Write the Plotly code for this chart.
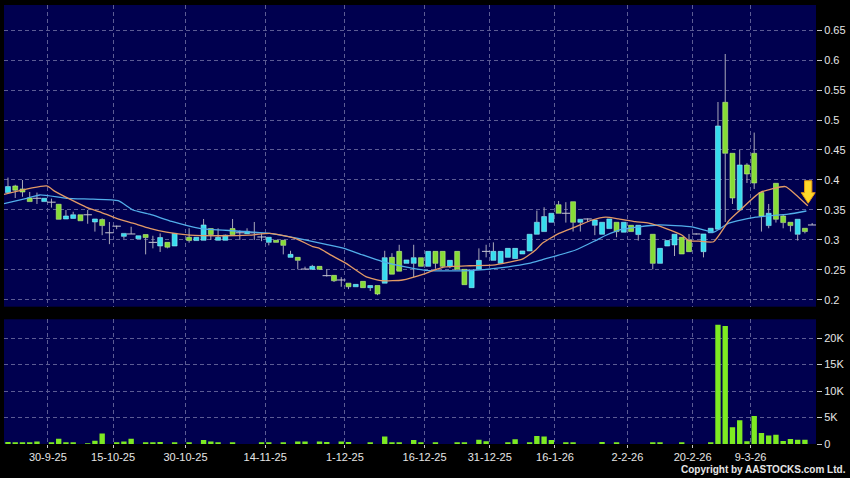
import plotly.graph_objects as go

# ---------------- data ----------------
slots = list(range(112))
opens = [.379, .390, .385, .370, .3695, .364, .363, .3595, .335, .336,
         .342, .342, .330, .334, .312, .323, .306, .310, .302, .309,
         .296, .290, .296, .290, None, .3045, .299, .2995, .319, .2995,
         .2995, .319, .312, .3105, .312, .305, .296, .2995, .2995, .271,
         .271, .2515, .251, .256, .2405, .241, .2333, .228, .222, .231,
         .2205, .224, .228, .271, .281, .261, .261, .2705, .256, .281,
         .281, .256, .281, .251, .2205, .251, .281, .266, .261, .271,
         .269, .2767, .2817, .3095, .314, .3295, .3588, .3445, .3638, .3295,
         .335, .3245, .3095, .319, .3295, .313, .3245, .309, None, .3095,
         .261, .290, .2917, .3045, .300, .310, .2805, .312, .318, .5295,
         .4445, .350, .425, .4445, .379, .324, .3945, .340, .3295, .3095,
         .3195, .325]
highs = [.404, .392, .400, .380, .379, .370, .369, .360, .350, .347,
         .342, .350, .335, .336, .330, .324, .311, .322, .307, .309,
         .307, .311, .296, .311, None, .3195, .3045, .335, .319, .3195,
         .309, .335, .316, .3195, .330, .311, .3045, .2995, .2995, .282,
         .271, .2555, .2585, .256, .251, .241, .238, .228, .226, .231,
         .225, .224, .282, .278, .292, .2667, .292, .2705, .281, .281,
         .281, .266, .281, .251, .250, .286, .292, .296, .281, .286,
         .286, .2817, .3095, .349, .3545, .3445, .365, .363, .3638, .3345,
         .336, .3333, .3295, .335, .3295, .3295, .3245, .3245, None, .3095,
         .286, .299, .3095, .3045, .310, .311, .310, .3195, .530, .610,
         .4445, .450, .428, .479, .380, .360, .395, .343, .3295, .3345,
         .3195, .3283]
lows = [.377, .370, .372, .364, .360, .364, .354, .3345, .335, .336,
        .332, .327, .314, .308, .293, .318, .302, .310, .302, .276,
        .286, .280, .286, .290, None, .2955, .299, .2995, .300, .2995,
        .2995, .309, .300, .3105, .300, .298, .291, .296, .276, .271,
        .251, .2515, .251, .251, .239, .230, .222, .218, .222, .2205,
        .215, .208, .228, .243, .248, .261, .238, .256, .256, .252,
        .253, .253, .251, .2255, .2205, .251, .271, .266, .261, .271,
        .269, .2767, .2817, .3095, .314, .3295, .3445, .329, .314, .314,
        .330, .308, .3095, .319, .3045, .313, .314, .299, None, .251,
        .261, .290, .2733, .2767, .2805, .309, .271, .312, .318, .330,
        .360, .350, .395, .385, .314, .3195, .329, .3195, .314, .299,
        .311, .325]
closes = [.389, .383, .380, .364, .3695, .3695, .363, .3345, .340, .342,
          .332, .342, .335, .324, .312, .323, .311, .310, .307, .304,
          .296, .304, .288, .311, None, .299, .3045, .325, .309, .3045,
          .308, .309, .312, .3145, .312, .305, .3045, .296, .291, .276,
          .266, .2515, .256, .251, .2405, .232, .2333, .222, .226, .2205,
          .224, .210, .2705, .243, .248, .2667, .2705, .256, .281, .261,
          .256, .266, .251, .2255, .250, .266, .281, .281, .281, .286,
          .286, .2817, .3095, .3295, .339, .3445, .3445, .3445, .3295, .3345,
          .335, .3333, .3295, .335, .314, .3295, .314, .3245, None, .261,
          .286, .299, .3095, .2767, .2805, .310, .310, .3195, .490, .4445,
          .370, .425, .410, .395, .340, .3445, .3345, .329, .324, .3345,
          .314, .325]
volumes_k = [.38, .25, .25, .25, .45, 0, .3, 1.0, .3, .3,
             0, .13, .63, 2.0, 0, .25, .45, 1.0, 0, .25,
             .25, .38, 0, .25, None, .25, 0, .76, .45, .25,
             0, .25, 0, 0, 0, .25, .25, 0, .3, 0,
             .45, .45, 0, .45, .38, 0, .45, .38, 0, 0,
             .2, 0, 1.4, .25, .25, 0, .76, .25, 0, .3,
             0, 0, .25, .25, 0, .82, .5, 0, 0, .3,
             .9, 0, .2, 1.5, 1.4, .76, 0, .3, .25, 0,
             0, 0, .38, 0, .2, 0, 0, 0, None, .25,
             .25, 0, 0, .2, 0, 0, 0, .2, 22.5, 22.3,
             3.15, 4.5, .5, 5.3, 2.1, 1.6, 1.75, .55, .95, .8,
             .8, 0]

ma_short_x = [-0.55, 5.33, 6.48, 8.54, 10.84, 12.68, 14.98, 17.26, 19.56, 21.87,
              25.08, 29.2, 33.3, 36.1, 38.2, 39.8, 42.07, 43.0, 44.4, 46.67,
              49.4, 51.7, 54.46, 57.7, 59.98, 63.7, 66.9, 69.2, 71.0, 72.84,
              73.75, 76.05, 78.35, 80.64, 82.5, 84.3, 86.6, 88.45, 90.75, 93.0,
              93.96, 95.3, 97.4, 99.5, 100.9, 103.8, 107.3, 108.7, 110.4]
ma_short_y = [.376, .390, .381, .368, .3545, .347, .336, .328, .3195, .313,
              .308, .307, .308, .311, .307, .302, .289, .286, .276, .261,
              .239, .232, .2333, .2445, .2545, .257, .258, .263, .268, .2833,
              .2945, .311, .322, .3333, .338, .335, .3305, .328, .3195, .3083,
              .299, .298, .297, .332, .348, .379, .389, .376, .357]
ma_long_x = [-0.55, 2.58, 4.4, 8.09, 11.75, 15.2, 17.26, 19.56, 22.6, 26.45,
             31.5, 36.1, 40.7, 43.9, 46.4, 48.95, 51.7, 55.4, 58.1, 63.7,
             68.2, 71.9, 73.7, 78.35, 81.1, 82.4, 84.8, 87.1, 89.8, 92.1,
             94.4, 96.3, 97.4, 99.5, 103.2, 107.7, 110.2]
ma_long_y = [.3605, .3695, .375, .3695, .368, .3655, .350, .343, .331, .3195,
             .315, .311, .301, .2928, .286, .275, .264, .254, .249, .249,
             .254, .261, .267, .2833, .299, .307, .318, .322, .325, .324,
             .322, .316, .313, .328, .338, .343, .3483]

date_tick_slots = [5.5, 14.5, 24.5, 35.5, 46.5, 57.5, 66.5, 75.5, 85.5, 94.5, 102.5]
date_tick_labels = ["30-9-25", "15-10-25", "30-10-25", "14-11-25", "1-12-25", "16-12-25",
                    "31-12-25", "16-1-26", "2-2-26", "20-2-26", "9-3-26"]
price_ticks = [0.2, 0.25, 0.3, 0.35, 0.4, 0.45, 0.5, 0.55, 0.6, 0.65]
price_tick_labels = ["0.2", "0.25", "0.3", "0.35", "0.4", "0.45", "0.5", "0.55", "0.6", "0.65"]
vol_ticks = [0, 5000, 10000, 15000, 20000]
vol_tick_labels = ["0", "5K", "10K", "15K", "20K"]

# ---------------- styling ----------------
UP_FILL, UP_LINE = "#36DCEE", "#9CF2FA"
DN_FILL, DN_LINE = "#86DC36", "#C4F28C"
WICK = "#A9A9B9"
VOL_COLOR = "#7EEA22"
ORANGE = "#E39A66"
BLUE = "#52AEEA"
GRID = "#5C5C94"
TXT = "#E6E6E6"
FONT = "Liberation Sans, Arial, sans-serif"

# ---------------- build candle pieces from the data ----------------
wx, wy = [], []
bx, bh, bb, bc, bl = [], [], [], [], []
dx, dy = [], []
for s, o, h, l, c in zip(slots, opens, highs, lows, closes):
    if o is None:
        continue
    top, bot = max(o, c), min(o, c)
    if h > top:
        wx += [s, s, None]; wy += [top, h, None]
    if l < bot:
        wx += [s, s, None]; wy += [l, bot, None]
    if abs(c - o) < 1e-9:
        dx.append(s); dy.append(o)
    else:
        bx.append(s); bh.append(top - bot); bb.append(bot)
        bc.append(UP_FILL if c > o else DN_FILL)
        bl.append(UP_LINE if c > o else DN_LINE)

vx = [s for s, v in zip(slots, volumes_k) if v]
vy = [v * 1000 for v in volumes_k if v]

fig = go.Figure()
fig.add_trace(go.Bar(x=bx, y=bh, base=bb, width=0.68,
                     marker=dict(color=bc, line=dict(color=bl, width=0.6)),
                     xaxis="x", yaxis="y", hoverinfo="skip"))
fig.add_trace(go.Scatter(x=wx, y=wy, mode="lines", line=dict(color=WICK, width=1),
                         xaxis="x", yaxis="y", hoverinfo="skip"))
fig.add_trace(go.Scatter(x=dx, y=dy, mode="markers",
                         marker=dict(symbol="line-ew", size=6, line=dict(color="#C8C8D2", width=1)),
                         xaxis="x", yaxis="y", hoverinfo="skip"))
fig.add_trace(go.Scatter(x=ma_long_x, y=ma_long_y, mode="lines",
                         line=dict(color=BLUE, width=1.3, shape="spline", smoothing=0.5),
                         xaxis="x", yaxis="y", hoverinfo="skip"))
fig.add_trace(go.Scatter(x=ma_short_x, y=ma_short_y, mode="lines",
                         line=dict(color=ORANGE, width=1.3, shape="spline", smoothing=0.5),
                         xaxis="x", yaxis="y", hoverinfo="skip"))
fig.add_trace(go.Bar(x=vx, y=vy, width=0.74, marker=dict(color=VOL_COLOR, line=dict(width=0)),
                     xaxis="x2", yaxis="y2", hoverinfo="skip"))

# arrow marker near the latest candle
ARROW_X = [109.95, 110.96, 111.42, 110.45, 109.49]
ARROW_Y = [0.3988, 0.3788, 0.3612]
arrow_path = (f"M {ARROW_X[0]},{ARROW_Y[0]} L {ARROW_X[1]},{ARROW_Y[0]} L {ARROW_X[1]},{ARROW_Y[1]} "
              f"L {ARROW_X[2]},{ARROW_Y[1]} L {ARROW_X[3]},{ARROW_Y[2]} L {ARROW_X[4]},{ARROW_Y[1]} "
              f"L {ARROW_X[0]},{ARROW_Y[1]} Z")
fig.add_shape(type="path", path=arrow_path, xref="x", yref="y",
              fillcolor="#FFD82A", line=dict(color="#E89A10", width=1))

X_RANGE = [-0.55, 111.53]
grid_common = dict(showgrid=True, gridcolor=GRID, griddash="4px,3px", gridwidth=1,
                   zeroline=False, showline=False)

fig.update_layout(
    width=850, height=478,
    margin=dict(l=4, r=32, t=5, b=34),
    paper_bgcolor="#000000", plot_bgcolor="#00004F",
    showlegend=False, barmode="overlay",
    font=dict(family=FONT, size=11, color=TXT),
    xaxis=dict(domain=[0, 1], range=X_RANGE, anchor="y", tickvals=date_tick_slots,
               showticklabels=False, ticks="", **grid_common),
    xaxis2=dict(domain=[0, 1], range=X_RANGE, anchor="y2", matches="x",
                tickvals=date_tick_slots, ticktext=date_tick_labels,
                ticks="outside", ticklen=3, tickcolor="#C8C8C8",
                tickfont=dict(family=FONT, size=11, color=TXT), **grid_common),
    yaxis=dict(domain=[0.3128, 1], range=[0.1888, 0.6917], side="right", anchor="x",
               tickvals=price_ticks, ticktext=price_tick_labels,
               ticks="outside", ticklen=5, tickcolor="#C8C8C8",
               tickfont=dict(family=FONT, size=11, color=TXT), **grid_common),
    yaxis2=dict(domain=[0, 0.2841], range=[0, 23550], side="right", anchor="x2",
                tickvals=vol_ticks, ticktext=vol_tick_labels,
                ticks="outside", ticklen=5, tickcolor="#C8C8C8",
                tickfont=dict(family=FONT, size=11, color=TXT), **grid_common),
)

fig.add_annotation(text="<b>Copyright by AASTOCKS.com Ltd.</b>", xref="paper", yref="paper",
                   x=1.0395, y=-0.0592, xanchor="right", yanchor="middle", showarrow=False,
                   font=dict(family=FONT, size=10, color=TXT))

fig.write_html("out.html",
               config={"displayModeBar": False},
               post_script="document.body.style.margin='0';document.body.style.overflow='hidden';"
                           "document.documentElement.style.background='#000';")
